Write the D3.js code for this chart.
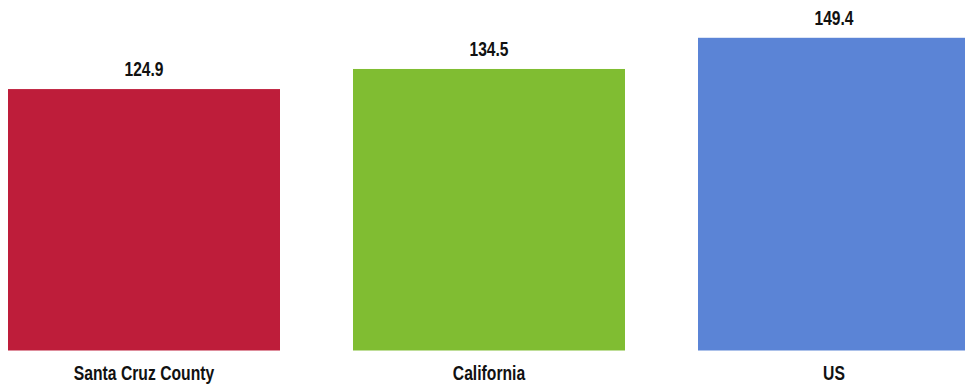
<!DOCTYPE html>
<html>
<head>
<meta charset="utf-8">
<script src="https://cdn.jsdelivr.net/npm/d3@7"></script>
<style>
  body { margin: 0; background: #fff; }
  svg { display: block; }
</style>
</head>
<body>
<div class="container"></div>
<script>
var categories = ['Santa Cruz County', 'California', 'US'];
var values = [124.9, 134.5, 149.4];
var colors = ['#BE1D3A', '#80BD32', '#5B84D6'];

buildChart();

function buildChart() {

  /* ===== SET UP CHART =====*/

  var w = 965;
  var h = 385;
  var font = '"Liberation Sans Narrow", "Arial Narrow", "Liberation Sans", Arial, sans-serif';
  var squeeze = 0.78; // narrow font look

  var svg = d3.select('.container')
    .append('svg')
    .attr('width', w)
    .attr('height', h);

  var xScale = d3.scaleBand()
    .domain(categories)
    .range([-28.5, 1006.5])
    .paddingInner(0.2116)
    .paddingOuter(0.1058);

  var yScale = d3.scaleLinear()
    .domain([0, 160])
    .range([350.5, 15.6]);

  var data = categories.map(function(c, i) {
    return { name: c, value: values[i], color: colors[i] };
  });

  /* ===== BARS =====*/

  svg.selectAll('rect.bar')
    .data(data)
    .enter()
    .append('rect')
    .attr('class', 'bar')
    .attr('x', function(d) { return xScale(d.name); })
    .attr('width', xScale.bandwidth())
    .attr('y', function(d) { return yScale(d.value); })
    .attr('height', function(d) { return yScale(0) - yScale(d.value); })
    .attr('fill', function(d) { return d.color; });

  /* ===== VALUE LABELS =====*/

  svg.selectAll('text.val')
    .data(data)
    .enter()
    .append('text')
    .attr('class', 'val')
    .attr('transform', function(d) {
      var cx = xScale(d.name) + xScale.bandwidth() / 2;
      return 'translate(' + cx + ',' + (yScale(d.value) - 12.6) + ') scale(' + squeeze + ',1)';
    })
    .attr('text-anchor', 'middle')
    .attr('font-family', font)
    .attr('font-weight', 'bold')
    .attr('font-size', '20px')
    .attr('fill', '#111')
    .text(function(d) { return d3.format('.1f')(d.value); });

  /* ===== CATEGORY AXIS =====*/

  var xAxis = d3.axisBottom(xScale).tickSize(0).tickPadding(0);

  var axisG = svg.append('g')
    .attr('transform', 'translate(0,380.3)')
    .call(xAxis);

  axisG.select('.domain').remove();
  axisG.selectAll('text')
    .attr('y', 0)
    .attr('dy', 0)
    .attr('transform', 'scale(' + (squeeze + 0.005) + ',1)')
    .attr('font-family', font)
    .attr('font-weight', 'bold')
    .attr('font-size', '20px')
    .attr('fill', '#111');
}
</script>
</body>
</html>
